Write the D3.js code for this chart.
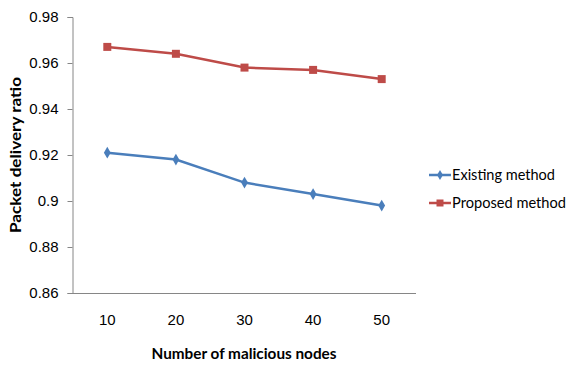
<!DOCTYPE html>
<html><head><meta charset="utf-8">
<script src="https://cdn.jsdelivr.net/npm/d3@7"></script>
<style>body{margin:0;background:#fff}svg{display:block;font-family:Lato,"Open Sans",sans-serif}</style>
</head><body><svg id="c" width="569" height="365"></svg>
<script>
const categories = ["10","20","30","40","50"];
const existing = [0.921,0.918,0.908,0.903,0.898];
const proposed = [0.967,0.964,0.958,0.957,0.953];
const yTicks = [0.86,0.88,0.9,0.92,0.94,0.96,0.98];
const seriesNames = ["Existing method","Proposed method"];
const colors = ["#4a7ebb","#be4b48"];

const svg = d3.select("#c");
const x = d3.scaleBand().domain(categories).range([73,416]);
const y = d3.scaleLinear().domain([0.86,0.98]).range([293,17]);

const yAxis = svg.append("g").attr("transform","translate(72.5,0)")
  .call(d3.axisLeft(y).tickValues(yTicks).tickSize(5).tickPadding(9).tickFormat(d=>d3.format("")(+d.toFixed(2))));
yAxis.selectAll("text").attr("font-size",15).attr("fill","#000");
yAxis.selectAll("line").attr("stroke","#868686");
yAxis.select(".domain").attr("stroke","#868686");

const xAxis = svg.append("g").attr("transform","translate(0,293.5)")
  .call(d3.axisBottom(x).tickSize(0).tickPadding(21));
xAxis.selectAll("text").attr("font-size",15).attr("fill","#000");
xAxis.select(".domain").attr("stroke","#868686").attr("d","M72,0H416");

svg.append("text").attr("x",244).attr("y",359).attr("text-anchor","middle")
  .attr("font-size",15).attr("font-weight","bold")
  .attr("textLength",185).attr("lengthAdjust","spacingAndGlyphs").text("Number of malicious nodes");
svg.append("text").attr("transform","translate(21,155) rotate(-90)").attr("text-anchor","middle")
  .attr("font-size",15).attr("font-weight","bold")
  .attr("textLength",156).attr("lengthAdjust","spacingAndGlyphs").text("Packet delivery ratio");

const cx = d => x(d)+x.bandwidth()/2;
const line = d3.line().x((d,i)=>cx(categories[i])).y(d=>y(d));
[existing,proposed].forEach((s,k)=>{
  svg.append("path").datum(s).attr("d",line).attr("fill","none").attr("stroke",colors[k]).attr("stroke-width",2.5);
  const sym = k===0 ? d3.symbol(d3.symbolDiamond,40) : d3.symbol(d3.symbolSquare,64);
  svg.selectAll(null).data(s).enter().append("path").attr("d",sym)
    .attr("transform",(d,i)=>`translate(${cx(categories[i])},${y(d)})`).attr("fill",colors[k]);
});

const leg = svg.append("g");
seriesNames.forEach((n,k)=>{
  const ly = 175 + k*28;
  leg.append("line").attr("x1",429).attr("x2",451).attr("y1",ly).attr("y2",ly).attr("stroke",colors[k]).attr("stroke-width",2.5);
  const sym = k===0 ? d3.symbol(d3.symbolDiamond,30) : d3.symbol(d3.symbolSquare,49);
  leg.append("path").attr("d",sym).attr("transform",`translate(440,${ly})`).attr("fill",colors[k]);
  leg.append("text").attr("x",452).attr("y",ly).attr("dy","0.35em").attr("font-size",14.5)
    .attr("textLength",k===0?103:114).attr("lengthAdjust","spacingAndGlyphs").text(n);
});
</script></body></html>
